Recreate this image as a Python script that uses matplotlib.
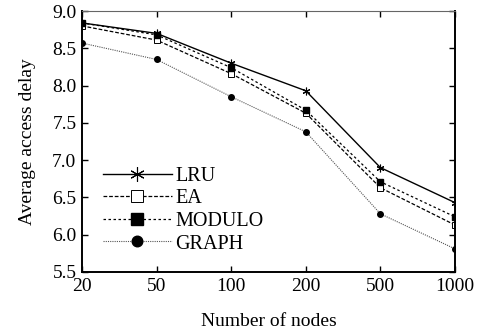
import matplotlib
matplotlib.use("Agg")
import matplotlib.pyplot as plt
import numpy as np

plt.rcParams['font.family'] = ['Liberation Serif', 'DejaVu Serif']

nodes = ['20', '50', '100', '200', '500', '1000']
lru = [8.84, 8.70, 8.30, 7.93, 6.90, 6.43]
ea = [8.80, 8.61, 8.16, 7.63, 6.63, 6.13]
modulo = [8.84, 8.68, 8.24, 7.67, 6.71, 6.24]
graph = [8.57, 8.35, 7.85, 7.38, 6.28, 5.81]

fig = plt.figure(figsize=(4.78, 3.36), dpi=100)
ax = fig.add_axes([82/478, 1 - 272/336, (455-82)/478, (272-11)/336])

x = np.arange(len(nodes))
ax.plot(x, lru, color='black', lw=1.0, ls='-', marker=(6, 2, 0), ms=5.5, mew=0.8, label='LRU')
ax.plot(x, ea, color='black', lw=0.9, ls=(0, (3, 1.5)), marker='s', ms=4.5, mfc='white', mew=0.7, label='EA')
ax.plot(x, modulo, color='black', lw=0.9, ls=(0, (2, 2)), marker='s', ms=4.5, label='MODULO')
ax.plot(x, graph, color='#555555', lw=0.8, ls=(0, (1, 1)), marker='o', ms=4, mfc='black', mec='black', label='GRAPH')

ax.set_xlim(0, len(nodes) - 1)
ax.set_ylim(5.5, 9.0)
ax.set_xticks(x)
ax.set_xticklabels(nodes)
ax.set_yticks(np.arange(5.5, 9.01, 0.5))
ax.set_yticklabels(['%.1f' % v for v in np.arange(5.5, 9.01, 0.5)])
ax.tick_params(direction='in', top=True, right=True, labelsize=14, length=4, width=1, pad=4)
ax.set_xlabel('Number of nodes', fontsize=14, labelpad=13)
ax.set_ylabel('Average access delay', fontsize=14, labelpad=12)
for s in ['left', 'bottom', 'right']:
    ax.spines[s].set_linewidth(1.4)
ax.spines['top'].set_linewidth(0.8)
ax.spines['top'].set_color('#666666')

ax.legend(loc='lower left', bbox_to_anchor=(0.035, 0.04), frameon=False, fontsize=14.5,
          markerscale=1.9, handlelength=3.4, handletextpad=0.2, labelspacing=0.17, borderaxespad=0)

fig.savefig('out.png', dpi=100)
